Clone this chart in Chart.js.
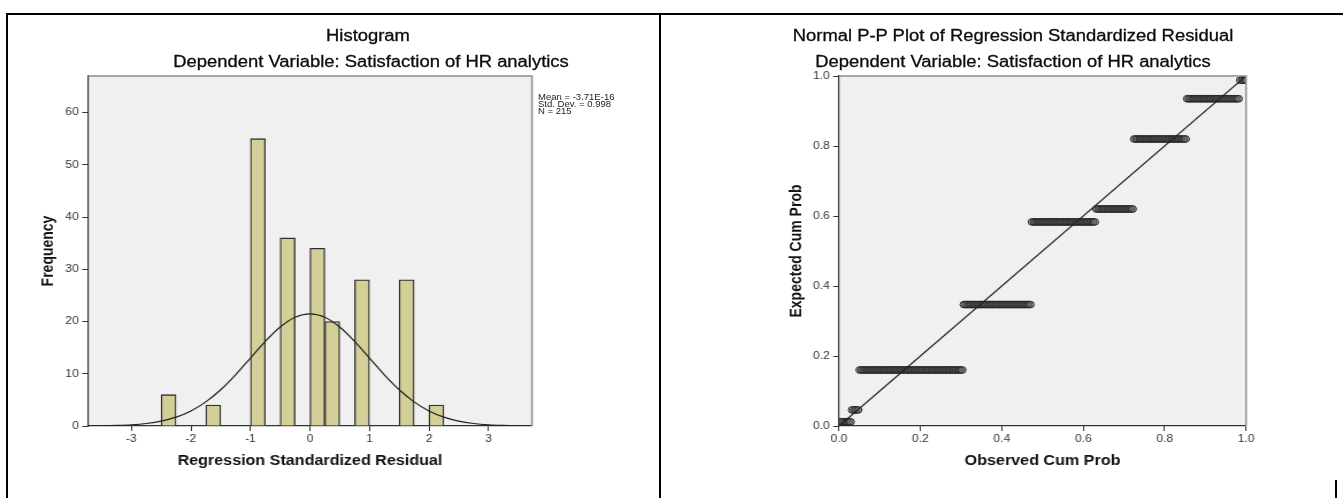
<!DOCTYPE html>
<html>
<head>
<meta charset="utf-8">
<title>Regression residuals</title>
<script src="https://cdn.jsdelivr.net/npm/chart.js@4.4.1/dist/chart.umd.min.js"></script>
<style>
  html, body { margin: 0; padding: 0; background: #fff; }
  #page {
    position: relative;
    width: 1343px;
    height: 498px;
    overflow: hidden;
    font-family: "Liberation Sans", Arial, sans-serif;
    color: #0d0d0d;
  }
  .rule { position: absolute; background: #000; }
  /* the source picture is stretched sideways, so text is widened too */
  .title {
    position: absolute;
    width: 600px;
    text-align: center;
    font-size: 16px;
    line-height: 18px;
    white-space: nowrap;
    -webkit-text-stroke: 0.3px #0d0d0d;
    transform: scaleX(1.15);
    transform-origin: 50% 50%;
  }
  #stats {
    position: absolute;
    left: 538px;
    top: 94px;
    font-size: 8.5px;
    line-height: 7px;
    color: #222;
    white-space: nowrap;
    transform: scaleX(1.12);
    transform-origin: 0 0;
  }
  canvas { position: absolute; top: 0; }
</style>
</head>
<body>
<div id="page">
  <!-- canvases are drawn narrow and stretched 1.15x like the original -->
  <canvas id="hist" width="574" height="498" style="left:0; width:660px; height:498px"></canvas>
  <canvas id="pp" width="592" height="498" style="left:662px; width:681px; height:498px"></canvas>

  <div class="title" style="left:68px; top:27px">Histogram</div>
  <div class="title" style="left:71px; top:53px">Dependent Variable: Satisfaction of HR analytics</div>
  <div id="stats">Mean = -3.71E-16<br>Std. Dev. = 0.998<br>N = 215</div>

  <div class="title" style="left:713px; top:27px">Normal P-P Plot of Regression Standardized Residual</div>
  <div class="title" style="left:713px; top:53px">Dependent Variable: Satisfaction of HR analytics</div>

  <!-- table frame around the two outputs -->
  <div class="rule" style="left:6px; top:13px; width:1337px; height:2px"></div>
  <div class="rule" style="left:6px; top:13px; width:2px; height:485px"></div>
  <div class="rule" style="left:659px; top:13px; width:2px; height:485px"></div>
  <div class="rule" style="left:1335px; top:480px; width:2px; height:18px"></div>
</div>

<script>
// histogram: bins are 0.25 wide, x is the bin middle
const binMid = [-2.375, -1.625, -0.875, -0.375, 0.125, 0.375, 0.875, 1.625, 2.125];
const freq = [6, 4, 55, 36, 34, 20, 28, 28, 4];

// normal curve drawn over the histogram, read every 0.25
const curveX = [-3.75, -3.5, -3.25, -3, -2.75, -2.5, -2.25, -2, -1.75, -1.5, -1.25, -1, -0.75, -0.5, -0.25,
  0, 0.25, 0.5, 0.75, 1, 1.25, 1.5, 1.75, 2, 2.25, 2.5, 2.75, 3, 3.25, 3.5, 3.75];
const curveY = [0.02, 0.05, 0.11, 0.23, 0.48, 0.93, 1.69, 2.88, 4.62, 6.94, 9.8, 13.0, 16.2, 18.94, 20.82,
  21.48, 20.82, 18.94, 16.2, 13.0, 9.8, 6.94, 4.62, 2.88, 1.69, 0.93, 0.48, 0.23, 0.11, 0.05, 0.02];

const histXTicks = [-3, -2, -1, 0, 1, 2, 3];
const histYTicks = [0, 10, 20, 30, 40, 50, 60];

// P-P plot: each tied residual gives a flat run of points
const ppExpected = [0.012, 0.046, 0.16, 0.347, 0.583, 0.62, 0.82, 0.935, 0.988];
const ppCounts = [6, 4, 55, 36, 34, 20, 28, 28, 4];
const ppTicks = [0, 0.2, 0.4, 0.6, 0.8, 1.0];
const diagonal = [0, 1];

const FONT = "'Liberation Sans', Arial, sans-serif";
const tickFont = { family: FONT, size: 10.5 };
const axisTitleFont = { family: FONT, size: 14, weight: "bold", lineHeight: 1.2 };

Chart.defaults.animation = false;
Chart.defaults.font.family = FONT;

// grey plot background, lighter frame on top and right
const plotFrame = {
  id: "plotFrame",
  beforeDraw(chart) {
    const { ctx, chartArea: a } = chart;
    ctx.save();
    ctx.fillStyle = "#F0F0F0";
    ctx.fillRect(a.left, a.top, a.width, a.height);
    ctx.restore();
  },
  afterDraw(chart) {
    const { ctx, chartArea: a } = chart;
    ctx.save();
    ctx.strokeStyle = "#8f8f8f";
    ctx.lineWidth = 1.5;
    ctx.beginPath();
    ctx.moveTo(a.left, a.top);
    ctx.lineTo(a.right, a.top);
    ctx.lineTo(a.right, a.bottom);
    ctx.stroke();
    ctx.restore();
  },
};

const fixedTicks = (values) => (scale) => {
  scale.ticks = values.map((v) => ({ value: v }));
};

const xAxisBase = {
  border: { display: true, color: "#333", width: 1.2 },
  grid: { display: true, drawOnChartArea: false, drawTicks: true, tickLength: 5, color: "#333", offset: false },
  ticks: { color: "#333", font: tickFont, padding: 2, maxRotation: 0, autoSkip: false },
};
const yAxisBase = {
  border: { display: true, color: "#333", width: 1.2 },
  grid: { display: true, drawOnChartArea: false, drawTicks: true, tickLength: 5, color: "#333" },
  ticks: { color: "#333", font: tickFont, padding: 3, autoSkip: false },
};

// ---- histogram ----
new Chart(document.getElementById("hist"), {
  type: "bar",
  data: {
    datasets: [
      {
        type: "line",
        data: curveX.map((x, i) => ({ x, y: curveY[i] })),
        borderColor: "#222",
        borderWidth: 1.2,
        pointRadius: 0,
        cubicInterpolationMode: "monotone",
        fill: false,
      },
      {
        type: "bar",
        data: binMid.map((x, i) => ({ x, y: freq[i] })),
        backgroundColor: "#D4CF98",
        borderColor: "#2e2e2e",
        borderWidth: 1.3,
        barPercentage: 1,
        categoryPercentage: 1,
      },
    ],
  },
  options: {
    responsive: false,
    layout: { padding: { top: 76, right: 111.4, bottom: 0, left: 0 } },
    plugins: { legend: { display: false }, tooltip: { enabled: false } },
    scales: {
      x: {
        ...xAxisBase,
        type: "linear",
        offset: false,
        min: -3.73,
        max: 3.73,
        afterBuildTicks: fixedTicks(histXTicks),
        afterFit: (s) => { s.height = 72; },
        title: { display: true, text: "Regression Standardized Residual", color: "#111", font: axisTitleFont, padding: { top: 0, bottom: 28 } },
      },
      y: {
        ...yAxisBase,
        min: 0,
        max: 67,
        afterBuildTicks: fixedTicks(histYTicks),
        afterFit: (s) => { s.width = 76.5; },
        title: { display: true, text: "Frequency", color: "#111", font: axisTitleFont, padding: { top: 34, bottom: 0 } },
      },
    },
  },
  plugins: [plotFrame],
});

// ---- normal P-P plot ----
const N = ppCounts.reduce((a, b) => a + b, 0);
const ppPoints = [];
let rank = 0;
ppCounts.forEach((n, g) => {
  for (let k = 0; k < n; k++) {
    rank++;
    ppPoints.push({ x: rank / N, y: ppExpected[g] });
  }
});

new Chart(document.getElementById("pp"), {
  type: "scatter",
  data: {
    datasets: [
      {
        type: "line",
        data: diagonal.map((v) => ({ x: v, y: v })),
        borderColor: "#222",
        borderWidth: 1.2,
        pointRadius: 0,
      },
      {
        data: ppPoints,
        pointRadius: 3.4,
        pointBorderWidth: 1,
        borderColor: "#262626",
        backgroundColor: "rgba(100,100,100,0.35)",
      },
    ],
  },
  options: {
    responsive: false,
    layout: { padding: { top: 76, right: 84.3, bottom: 0, left: 0 } },
    plugins: { legend: { display: false }, tooltip: { enabled: false } },
    scales: {
      x: {
        ...xAxisBase,
        type: "linear",
        min: 0,
        max: 1,
        afterBuildTicks: fixedTicks(ppTicks),
        afterFit: (s) => { s.height = 72; },
        ticks: { ...xAxisBase.ticks, callback: (v) => v.toFixed(1) },
        title: { display: true, text: "Observed Cum Prob", color: "#111", font: axisTitleFont, padding: { top: 0, bottom: 28 } },
      },
      y: {
        ...yAxisBase,
        min: 0,
        max: 1,
        afterBuildTicks: fixedTicks(ppTicks),
        afterFit: (s) => { s.width = 153.9; },
        ticks: { ...yAxisBase.ticks, callback: (v) => v.toFixed(1) },
        title: { display: true, text: "Expected Cum Prob", color: "#111", font: axisTitleFont, padding: { top: 109, bottom: 0 } },
      },
    },
  },
  plugins: [plotFrame],
});
</script>
</body>
</html>
